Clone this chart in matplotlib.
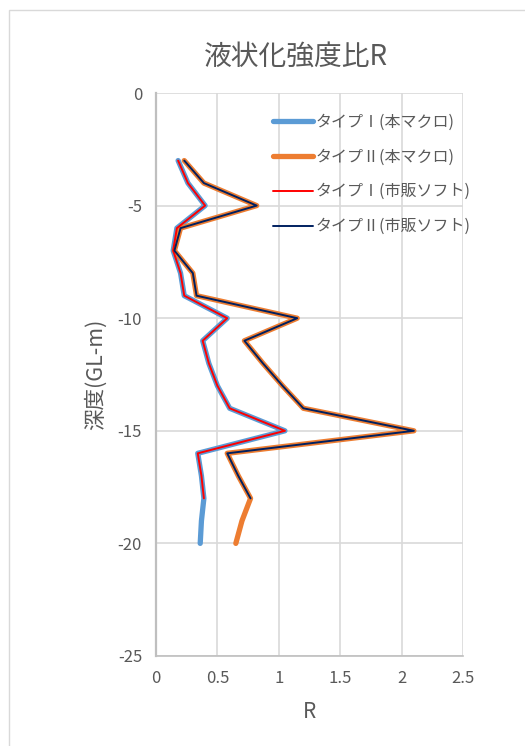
import matplotlib
matplotlib.use("Agg")
import matplotlib.pyplot as plt
from matplotlib.patches import Rectangle

plt.rcParams['font.family'] = ['Noto Sans CJK JP', 'DejaVu Sans']
plt.rcParams['axes.unicode_minus'] = False

# Depth (m) and strength ratio R per type
depth = [-3, -4, -5, -6, -7, -8, -9, -10, -11, -12, -13, -14, -15, -16, -17, -18, -19, -20]
r_type1_macro = [0.18, 0.26, 0.40, 0.17, 0.14, 0.20, 0.23, 0.58, 0.38, 0.43, 0.50, 0.60, 1.05, 0.34, 0.37, 0.39, 0.37, 0.36]
r_type2_macro = [0.23, 0.39, 0.82, 0.20, 0.15, 0.30, 0.33, 1.15, 0.72, 0.87, 1.03, 1.20, 2.10, 0.58, 0.67, 0.77, 0.70, 0.65]
depth_soft = [-3, -4, -5, -6, -7, -8, -9, -10, -11, -12, -13, -14, -15, -16, -17, -18]
r_type1_soft = [0.18, 0.26, 0.40, 0.17, 0.14, 0.20, 0.23, 0.58, 0.38, 0.43, 0.50, 0.60, 1.05, 0.34, 0.37, 0.39]
r_type2_soft = [0.23, 0.39, 0.82, 0.20, 0.15, 0.30, 0.33, 1.15, 0.72, 0.87, 1.03, 1.20, 2.10, 0.58, 0.67, 0.77]

labels = ['タイプⅠ(本マクロ)', 'タイプⅡ(本マクロ)', 'タイプⅠ(市販ソフト)', 'タイプⅡ(市販ソフト)']
x_ticks = [0, 0.5, 1, 1.5, 2, 2.5]
y_ticks = [0, -5, -10, -15, -20, -25]

text_color = '#595959'
grid_color = '#D9D9D9'

fig = plt.figure(figsize=(5.25, 7.46), dpi=100)
fig.patches.append(Rectangle((9 / 525, -1), 2, 1 + (1 - 10 / 746), transform=fig.transFigure,
                             fill=False, edgecolor='#D9D9D9', linewidth=1))
ax = fig.add_axes([156 / 525, 1 - 656 / 746, (463 - 156) / 525, (656 - 93) / 746])

common = dict(solid_capstyle='round', solid_joinstyle='round')
ax.plot(r_type1_macro, depth, color='#5B9BD5', lw=3.8, label=labels[0], **common)
ax.plot(r_type2_macro, depth, color='#ED7D31', lw=3.8, label=labels[1], **common)
ax.plot(r_type1_soft, depth_soft, color='#FF0000', lw=1.4, label=labels[2], **common)
ax.plot(r_type2_soft, depth_soft, color='#002060', lw=1.4, label=labels[3], **common)

ax.set_xlim(0, 2.5)
ax.set_ylim(-25, 0)
ax.set_xticks(x_ticks)
ax.set_xticklabels(['0', '0.5', '1', '1.5', '2', '2.5'])
ax.set_yticks(y_ticks)
ax.grid(True, color=grid_color, lw=1.2)
ax.set_axisbelow(True)
for side in ['top', 'right']:
    ax.spines[side].set_visible(False)
ax.spines['left'].set_color('#BFBFBF')
ax.spines['left'].set_linewidth(1.6)
ax.spines['bottom'].set_color('#BFBFBF')
ax.spines['bottom'].set_linewidth(1.2)
ax.tick_params(length=0, labelsize=12, labelcolor=text_color, pad=10)

ax.set_xlabel('R', fontsize=15, color=text_color, labelpad=10)
ax.set_ylabel('深度(GL-m)', fontsize=15.5, color=text_color, labelpad=8)
fig.text(296 / 525, 1 - 57 / 746, '液状化強度比R', ha='center', va='center',
         fontsize=20, color=text_color)

leg = ax.legend(loc='upper left', bbox_to_anchor=(0.36, 0.975), frameon=False,
                fontsize=11.5, labelcolor=text_color, handlelength=2.5,
                handletextpad=0.15, labelspacing=1.12, borderaxespad=0)

fig.savefig('out.png', dpi=100)
